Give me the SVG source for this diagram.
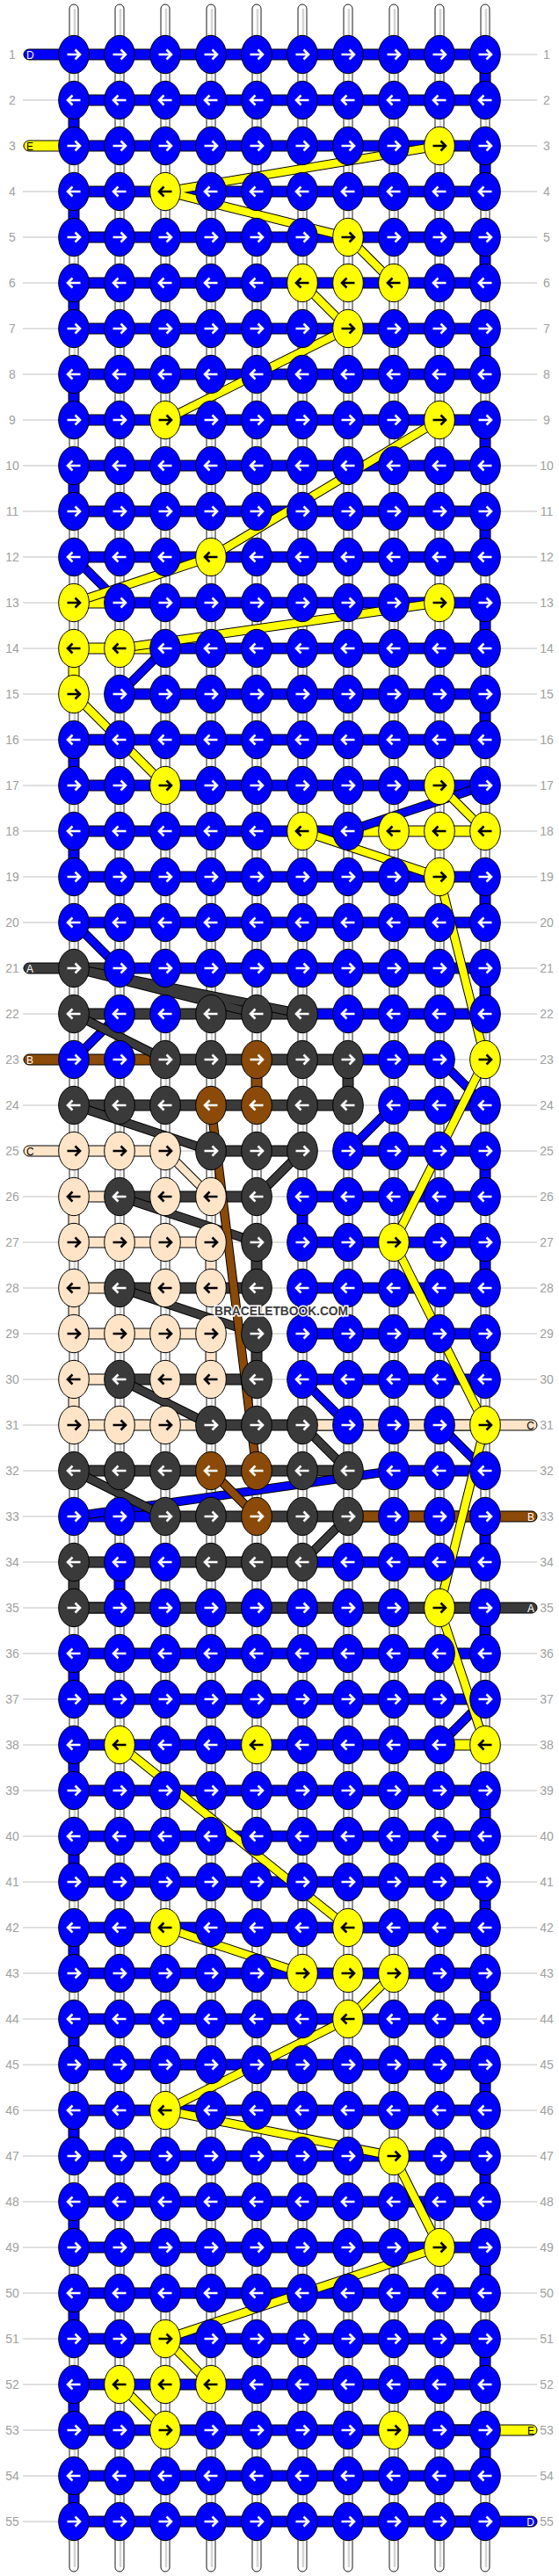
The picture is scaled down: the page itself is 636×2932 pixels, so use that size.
<svg xmlns="http://www.w3.org/2000/svg" xmlns:xlink="http://www.w3.org/1999/xlink" width="636" height="2932" viewBox="0 0 636 2932">
<style>
.rl{stroke:#c0c0c0;stroke-width:1}
.num{font-family:"Liberation Sans",Arial,sans-serif;font-size:14px;fill:#a0a0a0;text-anchor:middle}
.lab{font-family:"Liberation Sans",Arial,sans-serif;font-size:12px}
.str{fill:#fff;stroke:#000;stroke-width:0.9}
.stc{stroke:#d4d4d4;stroke-width:2.5}
.bar{stroke:#000;stroke-width:1}
.b{fill:#0000ff}.y{fill:#ffff00}.k{fill:#3a3a3a}.n{fill:#8b4a08}.p{fill:#ffe4c8}
.ol{fill:none;stroke:#000;stroke-width:10.5;stroke-linecap:butt}
.lb{fill:none;stroke:#0000ff;stroke-width:8.5}
.lk{fill:none;stroke:#3a3a3a;stroke-width:8.5}
.lp{fill:none;stroke:#ffe4c8;stroke-width:8.5}
.ln{fill:none;stroke:#8b4a08;stroke-width:8.5}
.ly{fill:none;stroke:#ffff00;stroke-width:8.5}
.aw{fill:none;stroke:#fff;stroke-width:2.6}
.ab{fill:none;stroke:#000;stroke-width:2.6}
.ke{stroke:#000;stroke-width:1}
.wm{font-family:"Liberation Sans",Arial,sans-serif;font-size:15px;font-weight:bold;fill:#3c3c3c;stroke:#fff;stroke-width:3;paint-order:stroke}
</style>
<defs>
<path id="ar" d="M-7.5,0H6M1.5,-5.5L7,0L1.5,5.5"/>
<path id="al" d="M7.5,0H-6M-1.5,-5.5L-7,0L-1.5,5.5"/>
<g id="BR"><ellipse class="ke b" rx="17.3" ry="21.7"/><use href="#ar" class="aw"/></g>
<g id="BL"><ellipse class="ke b" rx="17.3" ry="21.7"/><use href="#al" class="aw"/></g>
<g id="YR"><ellipse class="ke y" rx="17.3" ry="21.7"/><use href="#ar" class="ab"/></g>
<g id="YL"><ellipse class="ke y" rx="17.3" ry="21.7"/><use href="#al" class="ab"/></g>
<g id="KR"><ellipse class="ke k" rx="17.3" ry="21.7"/><use href="#ar" class="aw"/></g>
<g id="KL"><ellipse class="ke k" rx="17.3" ry="21.7"/><use href="#al" class="aw"/></g>
<g id="NR"><ellipse class="ke n" rx="17.3" ry="21.7"/><use href="#ar" class="aw"/></g>
<g id="NL"><ellipse class="ke n" rx="17.3" ry="21.7"/><use href="#al" class="aw"/></g>
<g id="PR"><ellipse class="ke p" rx="17.3" ry="21.7"/><use href="#ar" class="ab"/></g>
<g id="PL"><ellipse class="ke p" rx="17.3" ry="21.7"/><use href="#al" class="ab"/></g>
<path id="dB" d="M84,634L136,686M188,738L136,790M552,894L396,946M84,1050L136,1102M136,1154L84,1206M500,1206L552,1258M448,1258L396,1310M344,1570L396,1622M500,1622L552,1674M448,1674L84,1726M552,1934L500,1986"/>
<path id="dK" d="M84,1102L292,1154M84,1102L344,1154M84,1154L188,1206M84,1258L240,1310M344,1310L292,1362M136,1362L292,1414M136,1466L292,1518M136,1570L240,1622M344,1622L396,1674M84,1674L188,1726M396,1726L344,1778"/>
<path id="dP" d="M188,1310L240,1362"/>
<path id="dN" d="M240,1258L292,1674M240,1674L292,1726"/>
<path id="dY" d="M500,166L188,218L396,270L448,322M344,322L396,374L188,478M500,478L240,634L84,686M500,686L136,738M84,790L188,894M500,894L552,946M344,946L500,998L552,1206L448,1414L500,1518L552,1622L500,1830L552,1986M136,1986L396,2194M188,2194L344,2246M448,2246L396,2298L188,2402L448,2454L500,2558L188,2662L240,2714M136,2714L188,2766"/>
</defs>
<rect width="636" height="2932" fill="#fff"/>
<g id="rowlines">
<path class="rl" d="M26,62H611M26,114H611M26,166H611M26,218H611M26,270H611M26,322H611M26,374H611M26,426H611M26,478H611M26,530H611M26,582H611M26,634H611M26,686H611M26,738H611M26,790H611M26,842H611M26,894H611M26,946H611M26,998H611M26,1050H611M26,1102H611M26,1154H611M26,1206H611M26,1258H611M26,1310H611M26,1362H611M26,1414H611M26,1466H611M26,1518H611M26,1570H611M26,1622H611M26,1674H611M26,1726H611M26,1778H611M26,1830H611M26,1882H611M26,1934H611M26,1986H611M26,2038H611M26,2090H611M26,2142H611M26,2194H611M26,2246H611M26,2298H611M26,2350H611M26,2402H611M26,2454H611M26,2506H611M26,2558H611M26,2610H611M26,2662H611M26,2714H611M26,2766H611M26,2818H611M26,2870H611"/>
</g>
<g id="rownumbers" class="num">
<text x="14" y="67">1</text><text x="622" y="67">1</text>
<text x="14" y="119">2</text><text x="622" y="119">2</text>
<text x="14" y="171">3</text><text x="622" y="171">3</text>
<text x="14" y="223">4</text><text x="622" y="223">4</text>
<text x="14" y="275">5</text><text x="622" y="275">5</text>
<text x="14" y="327">6</text><text x="622" y="327">6</text>
<text x="14" y="379">7</text><text x="622" y="379">7</text>
<text x="14" y="431">8</text><text x="622" y="431">8</text>
<text x="14" y="483">9</text><text x="622" y="483">9</text>
<text x="14" y="535">10</text><text x="622" y="535">10</text>
<text x="14" y="587">11</text><text x="622" y="587">11</text>
<text x="14" y="639">12</text><text x="622" y="639">12</text>
<text x="14" y="691">13</text><text x="622" y="691">13</text>
<text x="14" y="743">14</text><text x="622" y="743">14</text>
<text x="14" y="795">15</text><text x="622" y="795">15</text>
<text x="14" y="847">16</text><text x="622" y="847">16</text>
<text x="14" y="899">17</text><text x="622" y="899">17</text>
<text x="14" y="951">18</text><text x="622" y="951">18</text>
<text x="14" y="1003">19</text><text x="622" y="1003">19</text>
<text x="14" y="1055">20</text><text x="622" y="1055">20</text>
<text x="14" y="1107">21</text><text x="622" y="1107">21</text>
<text x="14" y="1159">22</text><text x="622" y="1159">22</text>
<text x="14" y="1211">23</text><text x="622" y="1211">23</text>
<text x="14" y="1263">24</text><text x="622" y="1263">24</text>
<text x="14" y="1315">25</text><text x="622" y="1315">25</text>
<text x="14" y="1367">26</text><text x="622" y="1367">26</text>
<text x="14" y="1419">27</text><text x="622" y="1419">27</text>
<text x="14" y="1471">28</text><text x="622" y="1471">28</text>
<text x="14" y="1523">29</text><text x="622" y="1523">29</text>
<text x="14" y="1575">30</text><text x="622" y="1575">30</text>
<text x="14" y="1627">31</text><text x="622" y="1627">31</text>
<text x="14" y="1679">32</text><text x="622" y="1679">32</text>
<text x="14" y="1731">33</text><text x="622" y="1731">33</text>
<text x="14" y="1783">34</text><text x="622" y="1783">34</text>
<text x="14" y="1835">35</text><text x="622" y="1835">35</text>
<text x="14" y="1887">36</text><text x="622" y="1887">36</text>
<text x="14" y="1939">37</text><text x="622" y="1939">37</text>
<text x="14" y="1991">38</text><text x="622" y="1991">38</text>
<text x="14" y="2043">39</text><text x="622" y="2043">39</text>
<text x="14" y="2095">40</text><text x="622" y="2095">40</text>
<text x="14" y="2147">41</text><text x="622" y="2147">41</text>
<text x="14" y="2199">42</text><text x="622" y="2199">42</text>
<text x="14" y="2251">43</text><text x="622" y="2251">43</text>
<text x="14" y="2303">44</text><text x="622" y="2303">44</text>
<text x="14" y="2355">45</text><text x="622" y="2355">45</text>
<text x="14" y="2407">46</text><text x="622" y="2407">46</text>
<text x="14" y="2459">47</text><text x="622" y="2459">47</text>
<text x="14" y="2511">48</text><text x="622" y="2511">48</text>
<text x="14" y="2563">49</text><text x="622" y="2563">49</text>
<text x="14" y="2615">50</text><text x="622" y="2615">50</text>
<text x="14" y="2667">51</text><text x="622" y="2667">51</text>
<text x="14" y="2719">52</text><text x="622" y="2719">52</text>
<text x="14" y="2771">53</text><text x="622" y="2771">53</text>
<text x="14" y="2823">54</text><text x="622" y="2823">54</text>
<text x="14" y="2875">55</text><text x="622" y="2875">55</text>
</g>
<g id="strings">
<rect class="str" x="79" y="5" width="10" height="2922" rx="5"/><rect class="str" x="131" y="5" width="10" height="2922" rx="5"/><rect class="str" x="183" y="5" width="10" height="2922" rx="5"/><rect class="str" x="235" y="5" width="10" height="2922" rx="5"/><rect class="str" x="287" y="5" width="10" height="2922" rx="5"/><rect class="str" x="339" y="5" width="10" height="2922" rx="5"/><rect class="str" x="391" y="5" width="10" height="2922" rx="5"/><rect class="str" x="443" y="5" width="10" height="2922" rx="5"/><rect class="str" x="495" y="5" width="10" height="2922" rx="5"/><rect class="str" x="547" y="5" width="10" height="2922" rx="5"/>
<path class="stc" d="M85,10V2922M137,10V2922M189,10V2922M241,10V2922M293,10V2922M345,10V2922M397,10V2922M449,10V2922M501,10V2922M553,10V2922"/>
</g>
<g id="connectors">
<g class="bar">
<rect class="b" x="84" y="56" width="468" height="12"/><rect class="b" x="84" y="108" width="468" height="12"/><rect class="b" x="84" y="160" width="468" height="12"/><rect class="b" x="84" y="212" width="468" height="12"/><rect class="b" x="84" y="264" width="468" height="12"/><rect class="b" x="84" y="316" width="468" height="12"/><rect class="b" x="84" y="368" width="468" height="12"/><rect class="b" x="84" y="420" width="468" height="12"/><rect class="b" x="84" y="472" width="468" height="12"/><rect class="b" x="84" y="524" width="468" height="12"/><rect class="b" x="84" y="576" width="468" height="12"/><rect class="b" x="84" y="628" width="468" height="12"/>
<rect class="y" x="84" y="680" width="52" height="12"/><rect class="b" x="136" y="680" width="416" height="12"/>
<rect class="y" x="84" y="732" width="104" height="12"/><rect class="b" x="188" y="732" width="364" height="12"/>
<rect class="b" x="136" y="784" width="416" height="12"/>
<rect class="b" x="84" y="836" width="468" height="12"/><rect class="b" x="84" y="888" width="468" height="12"/>
<rect class="b" x="84" y="940" width="312" height="12"/><rect class="y" x="396" y="940" width="156" height="12"/>
<rect class="b" x="84" y="992" width="468" height="12"/><rect class="b" x="84" y="1044" width="468" height="12"/>
<rect class="k" x="84" y="1096" width="52" height="12"/><rect class="b" x="136" y="1096" width="416" height="12"/>
<rect class="k" x="84" y="1148" width="260" height="12"/><rect class="b" x="344" y="1148" width="208" height="12"/>
<rect class="n" x="84" y="1200" width="104" height="12"/><rect class="k" x="188" y="1200" width="208" height="12"/><rect class="b" x="396" y="1200" width="104" height="12"/>
<rect class="k" x="84" y="1252" width="312" height="12"/><rect class="b" x="448" y="1252" width="104" height="12"/>
<rect class="p" x="84" y="1304" width="104" height="12"/><rect class="k" x="240" y="1304" width="104" height="12"/><rect class="b" x="396" y="1304" width="156" height="12"/>
<rect class="p" x="84" y="1356" width="52" height="12"/><rect class="k" x="136" y="1356" width="156" height="12"/><rect class="b" x="344" y="1356" width="208" height="12"/>
<rect class="p" x="84" y="1408" width="156" height="12"/><rect class="b" x="344" y="1408" width="208" height="12"/>
<rect class="p" x="84" y="1460" width="52" height="12"/><rect class="k" x="136" y="1460" width="156" height="12"/><rect class="b" x="344" y="1460" width="208" height="12"/>
<rect class="p" x="84" y="1512" width="156" height="12"/><rect class="b" x="344" y="1512" width="208" height="12"/>
<rect class="p" x="84" y="1564" width="52" height="12"/><rect class="k" x="136" y="1564" width="156" height="12"/><rect class="b" x="344" y="1564" width="208" height="12"/>
<rect class="p" x="84" y="1616" width="156" height="12"/><rect class="k" x="240" y="1616" width="104" height="12"/><rect class="p" x="344" y="1616" width="267" height="12" rx="6"/><rect class="p" x="344" y="1616" width="210" height="12"/>
<rect class="k" x="84" y="1668" width="312" height="12"/><rect class="b" x="448" y="1668" width="104" height="12"/>
<rect class="b" x="84" y="1720" width="104" height="12"/><rect class="k" x="188" y="1720" width="208" height="12"/><rect class="n" x="396" y="1720" width="215" height="12" rx="6"/><rect class="n" x="396" y="1720" width="160" height="12"/>
<rect class="k" x="84" y="1772" width="260" height="12"/><rect class="b" x="344" y="1772" width="208" height="12"/>
<rect class="k" x="84" y="1824" width="527" height="12" rx="6"/><rect class="k" x="84" y="1824" width="470" height="12"/>
<rect class="b" x="84" y="1876" width="468" height="12"/><rect class="b" x="84" y="1928" width="468" height="12"/>
<rect class="b" x="84" y="1980" width="416" height="12"/><rect class="y" x="500" y="1980" width="52" height="12"/>
<rect class="b" x="84" y="2032" width="468" height="12"/><rect class="b" x="84" y="2084" width="468" height="12"/><rect class="b" x="84" y="2136" width="468" height="12"/><rect class="b" x="84" y="2188" width="468" height="12"/><rect class="b" x="84" y="2240" width="468" height="12"/><rect class="b" x="84" y="2292" width="468" height="12"/><rect class="b" x="84" y="2344" width="468" height="12"/><rect class="b" x="84" y="2396" width="468" height="12"/><rect class="b" x="84" y="2448" width="468" height="12"/><rect class="b" x="84" y="2500" width="468" height="12"/><rect class="b" x="84" y="2552" width="468" height="12"/><rect class="b" x="84" y="2604" width="468" height="12"/><rect class="b" x="84" y="2656" width="468" height="12"/><rect class="b" x="84" y="2708" width="468" height="12"/>
<rect class="y" x="500" y="2760" width="111" height="12" rx="6"/><rect class="b" x="84" y="2760" width="468" height="12"/>
<rect class="b" x="84" y="2812" width="468" height="12"/>
<rect class="b" x="500" y="2864" width="111" height="12" rx="6"/><rect class="b" x="84" y="2864" width="468" height="12"/>
<rect class="b" x="27" y="56" width="70" height="12" rx="6"/>
<rect class="y" x="27" y="160" width="70" height="12" rx="6"/>
<rect class="k" x="27" y="1096" width="70" height="12" rx="6"/>
<rect class="n" x="27" y="1200" width="70" height="12" rx="6"/>
<rect class="p" x="27" y="1304" width="70" height="12" rx="6"/>
</g>
<g class="bar" id="turns">
<rect class="b" x="546" y="62" width="12" height="52"/><rect class="b" x="546" y="166" width="12" height="52"/><rect class="b" x="546" y="270" width="12" height="52"/><rect class="b" x="546" y="374" width="12" height="52"/><rect class="b" x="546" y="478" width="12" height="52"/><rect class="b" x="546" y="582" width="12" height="52"/><rect class="b" x="546" y="686" width="12" height="52"/><rect class="b" x="546" y="790" width="12" height="52"/><rect class="b" x="546" y="998" width="12" height="52"/><rect class="b" x="546" y="1102" width="12" height="52"/><rect class="b" x="546" y="1310" width="12" height="52"/><rect class="b" x="546" y="1414" width="12" height="52"/><rect class="b" x="546" y="1518" width="12" height="52"/><rect class="b" x="546" y="1726" width="12" height="52"/><rect class="b" x="546" y="1830" width="12" height="52"/><rect class="b" x="546" y="2038" width="12" height="52"/><rect class="b" x="546" y="2142" width="12" height="52"/><rect class="b" x="546" y="2246" width="12" height="52"/><rect class="b" x="546" y="2350" width="12" height="52"/><rect class="b" x="546" y="2454" width="12" height="52"/><rect class="b" x="546" y="2558" width="12" height="52"/><rect class="b" x="546" y="2662" width="12" height="52"/><rect class="b" x="546" y="2766" width="12" height="52"/>
<rect class="b" x="78" y="114" width="12" height="52"/><rect class="b" x="78" y="218" width="12" height="52"/><rect class="b" x="78" y="322" width="12" height="52"/><rect class="b" x="78" y="426" width="12" height="52"/><rect class="b" x="78" y="530" width="12" height="52"/><rect class="b" x="78" y="842" width="12" height="52"/><rect class="b" x="78" y="946" width="12" height="52"/><rect class="b" x="78" y="1882" width="12" height="52"/><rect class="b" x="78" y="1986" width="12" height="52"/><rect class="b" x="78" y="2090" width="12" height="52"/><rect class="b" x="78" y="2194" width="12" height="52"/><rect class="b" x="78" y="2298" width="12" height="52"/><rect class="b" x="78" y="2402" width="12" height="52"/><rect class="b" x="78" y="2506" width="12" height="52"/><rect class="b" x="78" y="2610" width="12" height="52"/><rect class="b" x="78" y="2714" width="12" height="52"/><rect class="b" x="78" y="2818" width="12" height="52"/>
<rect class="y" x="78" y="738" width="12" height="52"/>
<rect class="n" x="286" y="1206" width="12" height="52"/><rect class="k" x="390" y="1206" width="12" height="52"/>
<rect class="p" x="78" y="1362" width="12" height="52"/><rect class="p" x="78" y="1466" width="12" height="52"/><rect class="p" x="78" y="1570" width="12" height="52"/>
<rect class="b" x="338" y="1362" width="12" height="52"/><rect class="b" x="338" y="1466" width="12" height="52"/>
<rect class="k" x="286" y="1414" width="12" height="52"/><rect class="k" x="286" y="1518" width="12" height="52"/>
<rect class="p" x="234" y="1414" width="12" height="52"/><rect class="p" x="234" y="1518" width="12" height="52"/>
<rect class="k" x="78" y="1778" width="12" height="52"/><rect class="b" x="130" y="1778" width="12" height="52"/>
</g>
<g id="diagonals">
<use href="#dB" class="ol"/><use href="#dB" class="lb"/>
<use href="#dK" class="ol"/><use href="#dK" class="lk"/>
<use href="#dP" class="ol"/><use href="#dP" class="lp"/>
<use href="#dN" class="ol"/><use href="#dN" class="ln"/>
<use href="#dY" class="ol"/><use href="#dY" class="ly"/>
</g>
</g>
<g id="knots">
<g id="row1"><use id="k1_1" href="#BR" x="84" y="62"/><use id="k1_2" href="#BR" x="136" y="62"/><use id="k1_3" href="#BR" x="188" y="62"/><use id="k1_4" href="#BR" x="240" y="62"/><use id="k1_5" href="#BR" x="292" y="62"/><use id="k1_6" href="#BR" x="344" y="62"/><use id="k1_7" href="#BR" x="396" y="62"/><use id="k1_8" href="#BR" x="448" y="62"/><use id="k1_9" href="#BR" x="500" y="62"/><use id="k1_10" href="#BR" x="552" y="62"/></g>
<g id="row2"><use id="k2_1" href="#BL" x="84" y="114"/><use id="k2_2" href="#BL" x="136" y="114"/><use id="k2_3" href="#BL" x="188" y="114"/><use id="k2_4" href="#BL" x="240" y="114"/><use id="k2_5" href="#BL" x="292" y="114"/><use id="k2_6" href="#BL" x="344" y="114"/><use id="k2_7" href="#BL" x="396" y="114"/><use id="k2_8" href="#BL" x="448" y="114"/><use id="k2_9" href="#BL" x="500" y="114"/><use id="k2_10" href="#BL" x="552" y="114"/></g>
<g id="row3"><use id="k3_1" href="#BR" x="84" y="166"/><use id="k3_2" href="#BR" x="136" y="166"/><use id="k3_3" href="#BR" x="188" y="166"/><use id="k3_4" href="#BR" x="240" y="166"/><use id="k3_5" href="#BR" x="292" y="166"/><use id="k3_6" href="#BR" x="344" y="166"/><use id="k3_7" href="#BR" x="396" y="166"/><use id="k3_8" href="#BR" x="448" y="166"/><use id="k3_9" href="#YR" x="500" y="166"/><use id="k3_10" href="#BR" x="552" y="166"/></g>
<g id="row4"><use id="k4_1" href="#BL" x="84" y="218"/><use id="k4_2" href="#BL" x="136" y="218"/><use id="k4_3" href="#YL" x="188" y="218"/><use id="k4_4" href="#BL" x="240" y="218"/><use id="k4_5" href="#BL" x="292" y="218"/><use id="k4_6" href="#BL" x="344" y="218"/><use id="k4_7" href="#BL" x="396" y="218"/><use id="k4_8" href="#BL" x="448" y="218"/><use id="k4_9" href="#BL" x="500" y="218"/><use id="k4_10" href="#BL" x="552" y="218"/></g>
<g id="row5"><use id="k5_1" href="#BR" x="84" y="270"/><use id="k5_2" href="#BR" x="136" y="270"/><use id="k5_3" href="#BR" x="188" y="270"/><use id="k5_4" href="#BR" x="240" y="270"/><use id="k5_5" href="#BR" x="292" y="270"/><use id="k5_6" href="#BR" x="344" y="270"/><use id="k5_7" href="#YR" x="396" y="270"/><use id="k5_8" href="#BR" x="448" y="270"/><use id="k5_9" href="#BR" x="500" y="270"/><use id="k5_10" href="#BR" x="552" y="270"/></g>
<g id="row6"><use id="k6_1" href="#BL" x="84" y="322"/><use id="k6_2" href="#BL" x="136" y="322"/><use id="k6_3" href="#BL" x="188" y="322"/><use id="k6_4" href="#BL" x="240" y="322"/><use id="k6_5" href="#BL" x="292" y="322"/><use id="k6_6" href="#YL" x="344" y="322"/><use id="k6_7" href="#YL" x="396" y="322"/><use id="k6_8" href="#YL" x="448" y="322"/><use id="k6_9" href="#BL" x="500" y="322"/><use id="k6_10" href="#BL" x="552" y="322"/></g>
<g id="row7"><use id="k7_1" href="#BR" x="84" y="374"/><use id="k7_2" href="#BR" x="136" y="374"/><use id="k7_3" href="#BR" x="188" y="374"/><use id="k7_4" href="#BR" x="240" y="374"/><use id="k7_5" href="#BR" x="292" y="374"/><use id="k7_6" href="#BR" x="344" y="374"/><use id="k7_7" href="#YR" x="396" y="374"/><use id="k7_8" href="#BR" x="448" y="374"/><use id="k7_9" href="#BR" x="500" y="374"/><use id="k7_10" href="#BR" x="552" y="374"/></g>
<g id="row8"><use id="k8_1" href="#BL" x="84" y="426"/><use id="k8_2" href="#BL" x="136" y="426"/><use id="k8_3" href="#BL" x="188" y="426"/><use id="k8_4" href="#BL" x="240" y="426"/><use id="k8_5" href="#BL" x="292" y="426"/><use id="k8_6" href="#BL" x="344" y="426"/><use id="k8_7" href="#BL" x="396" y="426"/><use id="k8_8" href="#BL" x="448" y="426"/><use id="k8_9" href="#BL" x="500" y="426"/><use id="k8_10" href="#BL" x="552" y="426"/></g>
<g id="row9"><use id="k9_1" href="#BR" x="84" y="478"/><use id="k9_2" href="#BR" x="136" y="478"/><use id="k9_3" href="#YR" x="188" y="478"/><use id="k9_4" href="#BR" x="240" y="478"/><use id="k9_5" href="#BR" x="292" y="478"/><use id="k9_6" href="#BR" x="344" y="478"/><use id="k9_7" href="#BR" x="396" y="478"/><use id="k9_8" href="#BR" x="448" y="478"/><use id="k9_9" href="#YR" x="500" y="478"/><use id="k9_10" href="#BR" x="552" y="478"/></g>
<g id="row10"><use id="k10_1" href="#BL" x="84" y="530"/><use id="k10_2" href="#BL" x="136" y="530"/><use id="k10_3" href="#BL" x="188" y="530"/><use id="k10_4" href="#BL" x="240" y="530"/><use id="k10_5" href="#BL" x="292" y="530"/><use id="k10_6" href="#BL" x="344" y="530"/><use id="k10_7" href="#BL" x="396" y="530"/><use id="k10_8" href="#BL" x="448" y="530"/><use id="k10_9" href="#BL" x="500" y="530"/><use id="k10_10" href="#BL" x="552" y="530"/></g>
<g id="row11"><use id="k11_1" href="#BR" x="84" y="582"/><use id="k11_2" href="#BR" x="136" y="582"/><use id="k11_3" href="#BR" x="188" y="582"/><use id="k11_4" href="#BR" x="240" y="582"/><use id="k11_5" href="#BR" x="292" y="582"/><use id="k11_6" href="#BR" x="344" y="582"/><use id="k11_7" href="#BR" x="396" y="582"/><use id="k11_8" href="#BR" x="448" y="582"/><use id="k11_9" href="#BR" x="500" y="582"/><use id="k11_10" href="#BR" x="552" y="582"/></g>
<g id="row12"><use id="k12_1" href="#BL" x="84" y="634"/><use id="k12_2" href="#BL" x="136" y="634"/><use id="k12_3" href="#BL" x="188" y="634"/><use id="k12_4" href="#YL" x="240" y="634"/><use id="k12_5" href="#BL" x="292" y="634"/><use id="k12_6" href="#BL" x="344" y="634"/><use id="k12_7" href="#BL" x="396" y="634"/><use id="k12_8" href="#BL" x="448" y="634"/><use id="k12_9" href="#BL" x="500" y="634"/><use id="k12_10" href="#BL" x="552" y="634"/></g>
<g id="row13"><use id="k13_1" href="#YR" x="84" y="686"/><use id="k13_2" href="#BR" x="136" y="686"/><use id="k13_3" href="#BR" x="188" y="686"/><use id="k13_4" href="#BR" x="240" y="686"/><use id="k13_5" href="#BR" x="292" y="686"/><use id="k13_6" href="#BR" x="344" y="686"/><use id="k13_7" href="#BR" x="396" y="686"/><use id="k13_8" href="#BR" x="448" y="686"/><use id="k13_9" href="#YR" x="500" y="686"/><use id="k13_10" href="#BR" x="552" y="686"/></g>
<g id="row14"><use id="k14_1" href="#YL" x="84" y="738"/><use id="k14_2" href="#YL" x="136" y="738"/><use id="k14_3" href="#BL" x="188" y="738"/><use id="k14_4" href="#BL" x="240" y="738"/><use id="k14_5" href="#BL" x="292" y="738"/><use id="k14_6" href="#BL" x="344" y="738"/><use id="k14_7" href="#BL" x="396" y="738"/><use id="k14_8" href="#BL" x="448" y="738"/><use id="k14_9" href="#BL" x="500" y="738"/><use id="k14_10" href="#BL" x="552" y="738"/></g>
<g id="row15"><use id="k15_1" href="#YR" x="84" y="790"/><use id="k15_2" href="#BR" x="136" y="790"/><use id="k15_3" href="#BR" x="188" y="790"/><use id="k15_4" href="#BR" x="240" y="790"/><use id="k15_5" href="#BR" x="292" y="790"/><use id="k15_6" href="#BR" x="344" y="790"/><use id="k15_7" href="#BR" x="396" y="790"/><use id="k15_8" href="#BR" x="448" y="790"/><use id="k15_9" href="#BR" x="500" y="790"/><use id="k15_10" href="#BR" x="552" y="790"/></g>
<g id="row16"><use id="k16_1" href="#BL" x="84" y="842"/><use id="k16_2" href="#BL" x="136" y="842"/><use id="k16_3" href="#BL" x="188" y="842"/><use id="k16_4" href="#BL" x="240" y="842"/><use id="k16_5" href="#BL" x="292" y="842"/><use id="k16_6" href="#BL" x="344" y="842"/><use id="k16_7" href="#BL" x="396" y="842"/><use id="k16_8" href="#BL" x="448" y="842"/><use id="k16_9" href="#BL" x="500" y="842"/><use id="k16_10" href="#BL" x="552" y="842"/></g>
<g id="row17"><use id="k17_1" href="#BR" x="84" y="894"/><use id="k17_2" href="#BR" x="136" y="894"/><use id="k17_3" href="#YR" x="188" y="894"/><use id="k17_4" href="#BR" x="240" y="894"/><use id="k17_5" href="#BR" x="292" y="894"/><use id="k17_6" href="#BR" x="344" y="894"/><use id="k17_7" href="#BR" x="396" y="894"/><use id="k17_8" href="#BR" x="448" y="894"/><use id="k17_9" href="#YR" x="500" y="894"/><use id="k17_10" href="#BR" x="552" y="894"/></g>
<g id="row18"><use id="k18_1" href="#BL" x="84" y="946"/><use id="k18_2" href="#BL" x="136" y="946"/><use id="k18_3" href="#BL" x="188" y="946"/><use id="k18_4" href="#BL" x="240" y="946"/><use id="k18_5" href="#BL" x="292" y="946"/><use id="k18_6" href="#YL" x="344" y="946"/><use id="k18_7" href="#BL" x="396" y="946"/><use id="k18_8" href="#YL" x="448" y="946"/><use id="k18_9" href="#YL" x="500" y="946"/><use id="k18_10" href="#YL" x="552" y="946"/></g>
<g id="row19"><use id="k19_1" href="#BR" x="84" y="998"/><use id="k19_2" href="#BR" x="136" y="998"/><use id="k19_3" href="#BR" x="188" y="998"/><use id="k19_4" href="#BR" x="240" y="998"/><use id="k19_5" href="#BR" x="292" y="998"/><use id="k19_6" href="#BR" x="344" y="998"/><use id="k19_7" href="#BR" x="396" y="998"/><use id="k19_8" href="#BR" x="448" y="998"/><use id="k19_9" href="#YR" x="500" y="998"/><use id="k19_10" href="#BR" x="552" y="998"/></g>
<g id="row20"><use id="k20_1" href="#BL" x="84" y="1050"/><use id="k20_2" href="#BL" x="136" y="1050"/><use id="k20_3" href="#BL" x="188" y="1050"/><use id="k20_4" href="#BL" x="240" y="1050"/><use id="k20_5" href="#BL" x="292" y="1050"/><use id="k20_6" href="#BL" x="344" y="1050"/><use id="k20_7" href="#BL" x="396" y="1050"/><use id="k20_8" href="#BL" x="448" y="1050"/><use id="k20_9" href="#BL" x="500" y="1050"/><use id="k20_10" href="#BL" x="552" y="1050"/></g>
<g id="row21"><use id="k21_1" href="#KR" x="84" y="1102"/><use id="k21_2" href="#BR" x="136" y="1102"/><use id="k21_3" href="#BR" x="188" y="1102"/><use id="k21_4" href="#BR" x="240" y="1102"/><use id="k21_5" href="#BR" x="292" y="1102"/><use id="k21_6" href="#BR" x="344" y="1102"/><use id="k21_7" href="#BR" x="396" y="1102"/><use id="k21_8" href="#BR" x="448" y="1102"/><use id="k21_9" href="#BR" x="500" y="1102"/><use id="k21_10" href="#BR" x="552" y="1102"/></g>
<g id="row22"><use id="k22_1" href="#KL" x="84" y="1154"/><use id="k22_2" href="#BL" x="136" y="1154"/><use id="k22_3" href="#BL" x="188" y="1154"/><use id="k22_4" href="#KL" x="240" y="1154"/><use id="k22_5" href="#KL" x="292" y="1154"/><use id="k22_6" href="#KL" x="344" y="1154"/><use id="k22_7" href="#BL" x="396" y="1154"/><use id="k22_8" href="#BL" x="448" y="1154"/><use id="k22_9" href="#BL" x="500" y="1154"/><use id="k22_10" href="#BL" x="552" y="1154"/></g>
<g id="row23"><use id="k23_1" href="#BR" x="84" y="1206"/><use id="k23_2" href="#BR" x="136" y="1206"/><use id="k23_3" href="#KR" x="188" y="1206"/><use id="k23_4" href="#KR" x="240" y="1206"/><use id="k23_5" href="#NR" x="292" y="1206"/><use id="k23_6" href="#KR" x="344" y="1206"/><use id="k23_7" href="#KR" x="396" y="1206"/><use id="k23_8" href="#BR" x="448" y="1206"/><use id="k23_9" href="#BR" x="500" y="1206"/><use id="k23_10" href="#YR" x="552" y="1206"/></g>
<g id="row24"><use id="k24_1" href="#KL" x="84" y="1258"/><use id="k24_2" href="#KL" x="136" y="1258"/><use id="k24_3" href="#KL" x="188" y="1258"/><use id="k24_4" href="#NL" x="240" y="1258"/><use id="k24_5" href="#NL" x="292" y="1258"/><use id="k24_6" href="#KL" x="344" y="1258"/><use id="k24_7" href="#KL" x="396" y="1258"/><use id="k24_8" href="#BL" x="448" y="1258"/><use id="k24_9" href="#BL" x="500" y="1258"/><use id="k24_10" href="#BL" x="552" y="1258"/></g>
<g id="row25"><use id="k25_1" href="#PR" x="84" y="1310"/><use id="k25_2" href="#PR" x="136" y="1310"/><use id="k25_3" href="#PR" x="188" y="1310"/><use id="k25_4" href="#KR" x="240" y="1310"/><use id="k25_5" href="#KR" x="292" y="1310"/><use id="k25_6" href="#KR" x="344" y="1310"/><use id="k25_7" href="#BR" x="396" y="1310"/><use id="k25_8" href="#BR" x="448" y="1310"/><use id="k25_9" href="#BR" x="500" y="1310"/><use id="k25_10" href="#BR" x="552" y="1310"/></g>
<g id="row26"><use id="k26_1" href="#PL" x="84" y="1362"/><use id="k26_2" href="#KL" x="136" y="1362"/><use id="k26_3" href="#PL" x="188" y="1362"/><use id="k26_4" href="#PL" x="240" y="1362"/><use id="k26_5" href="#KL" x="292" y="1362"/><use id="k26_6" href="#BL" x="344" y="1362"/><use id="k26_7" href="#BL" x="396" y="1362"/><use id="k26_8" href="#BL" x="448" y="1362"/><use id="k26_9" href="#BL" x="500" y="1362"/><use id="k26_10" href="#BL" x="552" y="1362"/></g>
<g id="row27"><use id="k27_1" href="#PR" x="84" y="1414"/><use id="k27_2" href="#PR" x="136" y="1414"/><use id="k27_3" href="#PR" x="188" y="1414"/><use id="k27_4" href="#PR" x="240" y="1414"/><use id="k27_5" href="#KR" x="292" y="1414"/><use id="k27_6" href="#BR" x="344" y="1414"/><use id="k27_7" href="#BR" x="396" y="1414"/><use id="k27_8" href="#YR" x="448" y="1414"/><use id="k27_9" href="#BR" x="500" y="1414"/><use id="k27_10" href="#BR" x="552" y="1414"/></g>
<g id="row28"><use id="k28_1" href="#PL" x="84" y="1466"/><use id="k28_2" href="#KL" x="136" y="1466"/><use id="k28_3" href="#PL" x="188" y="1466"/><use id="k28_4" href="#PL" x="240" y="1466"/><use id="k28_5" href="#KL" x="292" y="1466"/><use id="k28_6" href="#BL" x="344" y="1466"/><use id="k28_7" href="#BL" x="396" y="1466"/><use id="k28_8" href="#BL" x="448" y="1466"/><use id="k28_9" href="#BL" x="500" y="1466"/><use id="k28_10" href="#BL" x="552" y="1466"/></g>
<g id="row29"><use id="k29_1" href="#PR" x="84" y="1518"/><use id="k29_2" href="#PR" x="136" y="1518"/><use id="k29_3" href="#PR" x="188" y="1518"/><use id="k29_4" href="#PR" x="240" y="1518"/><use id="k29_5" href="#KR" x="292" y="1518"/><use id="k29_6" href="#BR" x="344" y="1518"/><use id="k29_7" href="#BR" x="396" y="1518"/><use id="k29_8" href="#BR" x="448" y="1518"/><use id="k29_9" href="#BR" x="500" y="1518"/><use id="k29_10" href="#BR" x="552" y="1518"/></g>
<g id="row30"><use id="k30_1" href="#PL" x="84" y="1570"/><use id="k30_2" href="#KL" x="136" y="1570"/><use id="k30_3" href="#PL" x="188" y="1570"/><use id="k30_4" href="#PL" x="240" y="1570"/><use id="k30_5" href="#KL" x="292" y="1570"/><use id="k30_6" href="#BL" x="344" y="1570"/><use id="k30_7" href="#BL" x="396" y="1570"/><use id="k30_8" href="#BL" x="448" y="1570"/><use id="k30_9" href="#BL" x="500" y="1570"/><use id="k30_10" href="#BL" x="552" y="1570"/></g>
<g id="row31"><use id="k31_1" href="#PR" x="84" y="1622"/><use id="k31_2" href="#PR" x="136" y="1622"/><use id="k31_3" href="#PR" x="188" y="1622"/><use id="k31_4" href="#KR" x="240" y="1622"/><use id="k31_5" href="#KR" x="292" y="1622"/><use id="k31_6" href="#KR" x="344" y="1622"/><use id="k31_7" href="#BR" x="396" y="1622"/><use id="k31_8" href="#BR" x="448" y="1622"/><use id="k31_9" href="#BR" x="500" y="1622"/><use id="k31_10" href="#YR" x="552" y="1622"/></g>
<g id="row32"><use id="k32_1" href="#KL" x="84" y="1674"/><use id="k32_2" href="#KL" x="136" y="1674"/><use id="k32_3" href="#KL" x="188" y="1674"/><use id="k32_4" href="#NL" x="240" y="1674"/><use id="k32_5" href="#NL" x="292" y="1674"/><use id="k32_6" href="#KL" x="344" y="1674"/><use id="k32_7" href="#KL" x="396" y="1674"/><use id="k32_8" href="#BL" x="448" y="1674"/><use id="k32_9" href="#BL" x="500" y="1674"/><use id="k32_10" href="#BL" x="552" y="1674"/></g>
<g id="row33"><use id="k33_1" href="#BR" x="84" y="1726"/><use id="k33_2" href="#BR" x="136" y="1726"/><use id="k33_3" href="#KR" x="188" y="1726"/><use id="k33_4" href="#KR" x="240" y="1726"/><use id="k33_5" href="#NR" x="292" y="1726"/><use id="k33_6" href="#KR" x="344" y="1726"/><use id="k33_7" href="#KR" x="396" y="1726"/><use id="k33_8" href="#BR" x="448" y="1726"/><use id="k33_9" href="#BR" x="500" y="1726"/><use id="k33_10" href="#BR" x="552" y="1726"/></g>
<g id="row34"><use id="k34_1" href="#KL" x="84" y="1778"/><use id="k34_2" href="#BL" x="136" y="1778"/><use id="k34_3" href="#BL" x="188" y="1778"/><use id="k34_4" href="#KL" x="240" y="1778"/><use id="k34_5" href="#KL" x="292" y="1778"/><use id="k34_6" href="#KL" x="344" y="1778"/><use id="k34_7" href="#BL" x="396" y="1778"/><use id="k34_8" href="#BL" x="448" y="1778"/><use id="k34_9" href="#BL" x="500" y="1778"/><use id="k34_10" href="#BL" x="552" y="1778"/></g>
<g id="row35"><use id="k35_1" href="#KR" x="84" y="1830"/><use id="k35_2" href="#BR" x="136" y="1830"/><use id="k35_3" href="#BR" x="188" y="1830"/><use id="k35_4" href="#BR" x="240" y="1830"/><use id="k35_5" href="#BR" x="292" y="1830"/><use id="k35_6" href="#BR" x="344" y="1830"/><use id="k35_7" href="#BR" x="396" y="1830"/><use id="k35_8" href="#BR" x="448" y="1830"/><use id="k35_9" href="#YR" x="500" y="1830"/><use id="k35_10" href="#BR" x="552" y="1830"/></g>
<g id="row36"><use id="k36_1" href="#BL" x="84" y="1882"/><use id="k36_2" href="#BL" x="136" y="1882"/><use id="k36_3" href="#BL" x="188" y="1882"/><use id="k36_4" href="#BL" x="240" y="1882"/><use id="k36_5" href="#BL" x="292" y="1882"/><use id="k36_6" href="#BL" x="344" y="1882"/><use id="k36_7" href="#BL" x="396" y="1882"/><use id="k36_8" href="#BL" x="448" y="1882"/><use id="k36_9" href="#BL" x="500" y="1882"/><use id="k36_10" href="#BL" x="552" y="1882"/></g>
<g id="row37"><use id="k37_1" href="#BR" x="84" y="1934"/><use id="k37_2" href="#BR" x="136" y="1934"/><use id="k37_3" href="#BR" x="188" y="1934"/><use id="k37_4" href="#BR" x="240" y="1934"/><use id="k37_5" href="#BR" x="292" y="1934"/><use id="k37_6" href="#BR" x="344" y="1934"/><use id="k37_7" href="#BR" x="396" y="1934"/><use id="k37_8" href="#BR" x="448" y="1934"/><use id="k37_9" href="#BR" x="500" y="1934"/><use id="k37_10" href="#BR" x="552" y="1934"/></g>
<g id="row38"><use id="k38_1" href="#BL" x="84" y="1986"/><use id="k38_2" href="#YL" x="136" y="1986"/><use id="k38_3" href="#BL" x="188" y="1986"/><use id="k38_4" href="#BL" x="240" y="1986"/><use id="k38_5" href="#YL" x="292" y="1986"/><use id="k38_6" href="#BL" x="344" y="1986"/><use id="k38_7" href="#BL" x="396" y="1986"/><use id="k38_8" href="#BL" x="448" y="1986"/><use id="k38_9" href="#BL" x="500" y="1986"/><use id="k38_10" href="#YL" x="552" y="1986"/></g>
<g id="row39"><use id="k39_1" href="#BR" x="84" y="2038"/><use id="k39_2" href="#BR" x="136" y="2038"/><use id="k39_3" href="#BR" x="188" y="2038"/><use id="k39_4" href="#BR" x="240" y="2038"/><use id="k39_5" href="#BR" x="292" y="2038"/><use id="k39_6" href="#BR" x="344" y="2038"/><use id="k39_7" href="#BR" x="396" y="2038"/><use id="k39_8" href="#BR" x="448" y="2038"/><use id="k39_9" href="#BR" x="500" y="2038"/><use id="k39_10" href="#BR" x="552" y="2038"/></g>
<g id="row40"><use id="k40_1" href="#BL" x="84" y="2090"/><use id="k40_2" href="#BL" x="136" y="2090"/><use id="k40_3" href="#BL" x="188" y="2090"/><use id="k40_4" href="#BL" x="240" y="2090"/><use id="k40_5" href="#BL" x="292" y="2090"/><use id="k40_6" href="#BL" x="344" y="2090"/><use id="k40_7" href="#BL" x="396" y="2090"/><use id="k40_8" href="#BL" x="448" y="2090"/><use id="k40_9" href="#BL" x="500" y="2090"/><use id="k40_10" href="#BL" x="552" y="2090"/></g>
<g id="row41"><use id="k41_1" href="#BR" x="84" y="2142"/><use id="k41_2" href="#BR" x="136" y="2142"/><use id="k41_3" href="#BR" x="188" y="2142"/><use id="k41_4" href="#BR" x="240" y="2142"/><use id="k41_5" href="#BR" x="292" y="2142"/><use id="k41_6" href="#BR" x="344" y="2142"/><use id="k41_7" href="#BR" x="396" y="2142"/><use id="k41_8" href="#BR" x="448" y="2142"/><use id="k41_9" href="#BR" x="500" y="2142"/><use id="k41_10" href="#BR" x="552" y="2142"/></g>
<g id="row42"><use id="k42_1" href="#BL" x="84" y="2194"/><use id="k42_2" href="#BL" x="136" y="2194"/><use id="k42_3" href="#YL" x="188" y="2194"/><use id="k42_4" href="#BL" x="240" y="2194"/><use id="k42_5" href="#BL" x="292" y="2194"/><use id="k42_6" href="#BL" x="344" y="2194"/><use id="k42_7" href="#YL" x="396" y="2194"/><use id="k42_8" href="#BL" x="448" y="2194"/><use id="k42_9" href="#BL" x="500" y="2194"/><use id="k42_10" href="#BL" x="552" y="2194"/></g>
<g id="row43"><use id="k43_1" href="#BR" x="84" y="2246"/><use id="k43_2" href="#BR" x="136" y="2246"/><use id="k43_3" href="#BR" x="188" y="2246"/><use id="k43_4" href="#BR" x="240" y="2246"/><use id="k43_5" href="#BR" x="292" y="2246"/><use id="k43_6" href="#YR" x="344" y="2246"/><use id="k43_7" href="#YR" x="396" y="2246"/><use id="k43_8" href="#YR" x="448" y="2246"/><use id="k43_9" href="#BR" x="500" y="2246"/><use id="k43_10" href="#BR" x="552" y="2246"/></g>
<g id="row44"><use id="k44_1" href="#BL" x="84" y="2298"/><use id="k44_2" href="#BL" x="136" y="2298"/><use id="k44_3" href="#BL" x="188" y="2298"/><use id="k44_4" href="#BL" x="240" y="2298"/><use id="k44_5" href="#BL" x="292" y="2298"/><use id="k44_6" href="#BL" x="344" y="2298"/><use id="k44_7" href="#YL" x="396" y="2298"/><use id="k44_8" href="#BL" x="448" y="2298"/><use id="k44_9" href="#BL" x="500" y="2298"/><use id="k44_10" href="#BL" x="552" y="2298"/></g>
<g id="row45"><use id="k45_1" href="#BR" x="84" y="2350"/><use id="k45_2" href="#BR" x="136" y="2350"/><use id="k45_3" href="#BR" x="188" y="2350"/><use id="k45_4" href="#BR" x="240" y="2350"/><use id="k45_5" href="#BR" x="292" y="2350"/><use id="k45_6" href="#BR" x="344" y="2350"/><use id="k45_7" href="#BR" x="396" y="2350"/><use id="k45_8" href="#BR" x="448" y="2350"/><use id="k45_9" href="#BR" x="500" y="2350"/><use id="k45_10" href="#BR" x="552" y="2350"/></g>
<g id="row46"><use id="k46_1" href="#BL" x="84" y="2402"/><use id="k46_2" href="#BL" x="136" y="2402"/><use id="k46_3" href="#YL" x="188" y="2402"/><use id="k46_4" href="#BL" x="240" y="2402"/><use id="k46_5" href="#BL" x="292" y="2402"/><use id="k46_6" href="#BL" x="344" y="2402"/><use id="k46_7" href="#BL" x="396" y="2402"/><use id="k46_8" href="#BL" x="448" y="2402"/><use id="k46_9" href="#BL" x="500" y="2402"/><use id="k46_10" href="#BL" x="552" y="2402"/></g>
<g id="row47"><use id="k47_1" href="#BR" x="84" y="2454"/><use id="k47_2" href="#BR" x="136" y="2454"/><use id="k47_3" href="#BR" x="188" y="2454"/><use id="k47_4" href="#BR" x="240" y="2454"/><use id="k47_5" href="#BR" x="292" y="2454"/><use id="k47_6" href="#BR" x="344" y="2454"/><use id="k47_7" href="#BR" x="396" y="2454"/><use id="k47_8" href="#YR" x="448" y="2454"/><use id="k47_9" href="#BR" x="500" y="2454"/><use id="k47_10" href="#BR" x="552" y="2454"/></g>
<g id="row48"><use id="k48_1" href="#BL" x="84" y="2506"/><use id="k48_2" href="#BL" x="136" y="2506"/><use id="k48_3" href="#BL" x="188" y="2506"/><use id="k48_4" href="#BL" x="240" y="2506"/><use id="k48_5" href="#BL" x="292" y="2506"/><use id="k48_6" href="#BL" x="344" y="2506"/><use id="k48_7" href="#BL" x="396" y="2506"/><use id="k48_8" href="#BL" x="448" y="2506"/><use id="k48_9" href="#BL" x="500" y="2506"/><use id="k48_10" href="#BL" x="552" y="2506"/></g>
<g id="row49"><use id="k49_1" href="#BR" x="84" y="2558"/><use id="k49_2" href="#BR" x="136" y="2558"/><use id="k49_3" href="#BR" x="188" y="2558"/><use id="k49_4" href="#BR" x="240" y="2558"/><use id="k49_5" href="#BR" x="292" y="2558"/><use id="k49_6" href="#BR" x="344" y="2558"/><use id="k49_7" href="#BR" x="396" y="2558"/><use id="k49_8" href="#BR" x="448" y="2558"/><use id="k49_9" href="#YR" x="500" y="2558"/><use id="k49_10" href="#BR" x="552" y="2558"/></g>
<g id="row50"><use id="k50_1" href="#BL" x="84" y="2610"/><use id="k50_2" href="#BL" x="136" y="2610"/><use id="k50_3" href="#BL" x="188" y="2610"/><use id="k50_4" href="#BL" x="240" y="2610"/><use id="k50_5" href="#BL" x="292" y="2610"/><use id="k50_6" href="#BL" x="344" y="2610"/><use id="k50_7" href="#BL" x="396" y="2610"/><use id="k50_8" href="#BL" x="448" y="2610"/><use id="k50_9" href="#BL" x="500" y="2610"/><use id="k50_10" href="#BL" x="552" y="2610"/></g>
<g id="row51"><use id="k51_1" href="#BR" x="84" y="2662"/><use id="k51_2" href="#BR" x="136" y="2662"/><use id="k51_3" href="#YR" x="188" y="2662"/><use id="k51_4" href="#BR" x="240" y="2662"/><use id="k51_5" href="#BR" x="292" y="2662"/><use id="k51_6" href="#BR" x="344" y="2662"/><use id="k51_7" href="#BR" x="396" y="2662"/><use id="k51_8" href="#BR" x="448" y="2662"/><use id="k51_9" href="#BR" x="500" y="2662"/><use id="k51_10" href="#BR" x="552" y="2662"/></g>
<g id="row52"><use id="k52_1" href="#BL" x="84" y="2714"/><use id="k52_2" href="#YL" x="136" y="2714"/><use id="k52_3" href="#YL" x="188" y="2714"/><use id="k52_4" href="#YL" x="240" y="2714"/><use id="k52_5" href="#BL" x="292" y="2714"/><use id="k52_6" href="#BL" x="344" y="2714"/><use id="k52_7" href="#BL" x="396" y="2714"/><use id="k52_8" href="#BL" x="448" y="2714"/><use id="k52_9" href="#BL" x="500" y="2714"/><use id="k52_10" href="#BL" x="552" y="2714"/></g>
<g id="row53"><use id="k53_1" href="#BR" x="84" y="2766"/><use id="k53_2" href="#BR" x="136" y="2766"/><use id="k53_3" href="#YR" x="188" y="2766"/><use id="k53_4" href="#BR" x="240" y="2766"/><use id="k53_5" href="#BR" x="292" y="2766"/><use id="k53_6" href="#BR" x="344" y="2766"/><use id="k53_7" href="#BR" x="396" y="2766"/><use id="k53_8" href="#YR" x="448" y="2766"/><use id="k53_9" href="#BR" x="500" y="2766"/><use id="k53_10" href="#BR" x="552" y="2766"/></g>
<g id="row54"><use id="k54_1" href="#BL" x="84" y="2818"/><use id="k54_2" href="#BL" x="136" y="2818"/><use id="k54_3" href="#BL" x="188" y="2818"/><use id="k54_4" href="#BL" x="240" y="2818"/><use id="k54_5" href="#BL" x="292" y="2818"/><use id="k54_6" href="#BL" x="344" y="2818"/><use id="k54_7" href="#BL" x="396" y="2818"/><use id="k54_8" href="#BL" x="448" y="2818"/><use id="k54_9" href="#BL" x="500" y="2818"/><use id="k54_10" href="#BL" x="552" y="2818"/></g>
<g id="row55"><use id="k55_1" href="#BR" x="84" y="2870"/><use id="k55_2" href="#BR" x="136" y="2870"/><use id="k55_3" href="#BR" x="188" y="2870"/><use id="k55_4" href="#BR" x="240" y="2870"/><use id="k55_5" href="#BR" x="292" y="2870"/><use id="k55_6" href="#BR" x="344" y="2870"/><use id="k55_7" href="#BR" x="396" y="2870"/><use id="k55_8" href="#BR" x="448" y="2870"/><use id="k55_9" href="#BR" x="500" y="2870"/><use id="k55_10" href="#BR" x="552" y="2870"/></g>
</g>
<g id="labels" class="lab">
<text x="30" y="66.5" fill="#fff">D</text>
<text x="30" y="170.5" fill="#000">E</text>
<text x="30" y="1106.5" fill="#fff">A</text>
<text x="30" y="1210.5" fill="#fff">B</text>
<text x="30" y="1314.5" fill="#000">C</text>
<text x="608" y="1626.5" fill="#000" text-anchor="end">C</text>
<text x="608" y="1730.5" fill="#fff" text-anchor="end">B</text>
<text x="608" y="1834.5" fill="#fff" text-anchor="end">A</text>
<text x="608" y="2770.5" fill="#000" text-anchor="end">E</text>
<text x="608" y="2874.5" fill="#fff" text-anchor="end">D</text>
</g>
<text class="wm" x="244" y="1497" textLength="152" lengthAdjust="spacingAndGlyphs">BRACELETBOOK.COM</text>
</svg>
